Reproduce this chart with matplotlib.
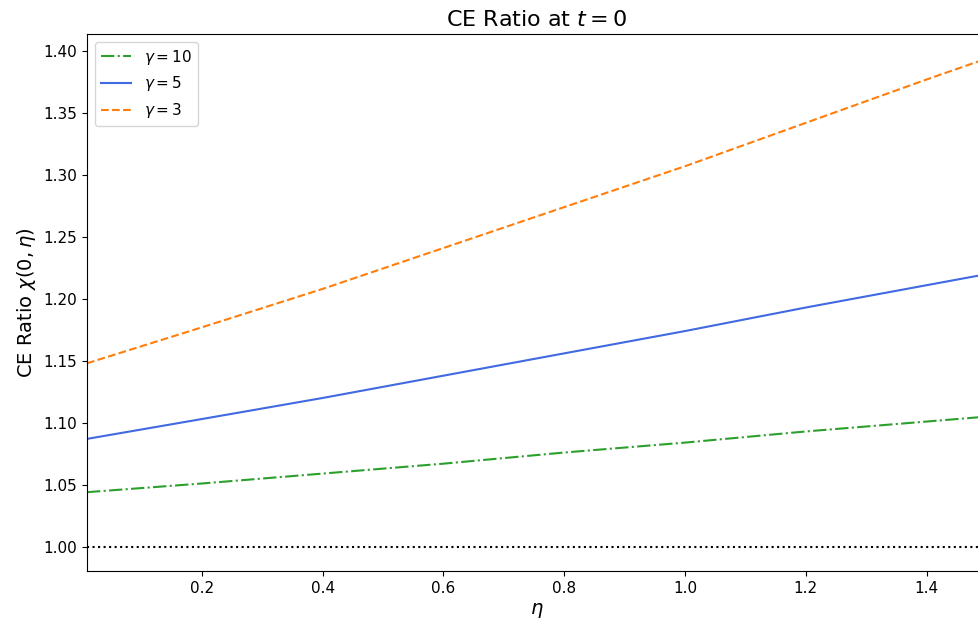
import numpy as np
import matplotlib
matplotlib.use("Agg")
import matplotlib.pyplot as plt

# values
eta = [0.01, 0.2, 0.4, 0.6, 0.8, 1.0, 1.2, 1.4, 1.5]
ce_gamma10 = [1.044, 1.051, 1.059, 1.067, 1.076, 1.084, 1.093, 1.101, 1.105]
ce_gamma5 = [1.087, 1.103, 1.120, 1.138, 1.156, 1.174, 1.193, 1.211, 1.220]
ce_gamma3 = [1.148, 1.177, 1.208, 1.241, 1.274, 1.307, 1.342, 1.377, 1.394]

fig = plt.figure(figsize=(9.79, 6.21), dpi=100)
# axes run past the right border, as in the reference
ax = fig.add_axes([87 / 979, 50 / 621, 900 / 979, 537 / 621])

ax.plot(eta, ce_gamma10, color="tab:green", linestyle="-.", linewidth=1.5, label=r"$\gamma = 10$")
ax.plot(eta, ce_gamma5, color="royalblue", linestyle="-", linewidth=1.5, label=r"$\gamma = 5$")
ax.plot(eta, ce_gamma3, color="tab:orange", linestyle="--", linewidth=1.5, label=r"$\gamma = 3$")
ax.axhline(1.0, color="black", linestyle=":", linewidth=1.5)

ax.set_xlim(0.01, 1.5)
ax.set_ylim(0.9804, 1.4137)
ax.set_xticks([0.2, 0.4, 0.6, 0.8, 1.0, 1.2, 1.4])
ax.set_yticks([1.00, 1.05, 1.10, 1.15, 1.20, 1.25, 1.30, 1.35, 1.40])
ax.yaxis.set_major_formatter(matplotlib.ticker.FormatStrFormatter("%.2f"))
ax.tick_params(labelsize=11)

ax.set_title(r"CE Ratio at $t = 0$", fontsize=16)
ax.set_xlabel(r"$\eta$", fontsize=14)
ax.set_ylabel(r"CE Ratio $\chi(0, \eta)$", fontsize=14)
ax.legend(loc="upper left", fontsize=11)

fig.savefig("out.png", dpi=100)
